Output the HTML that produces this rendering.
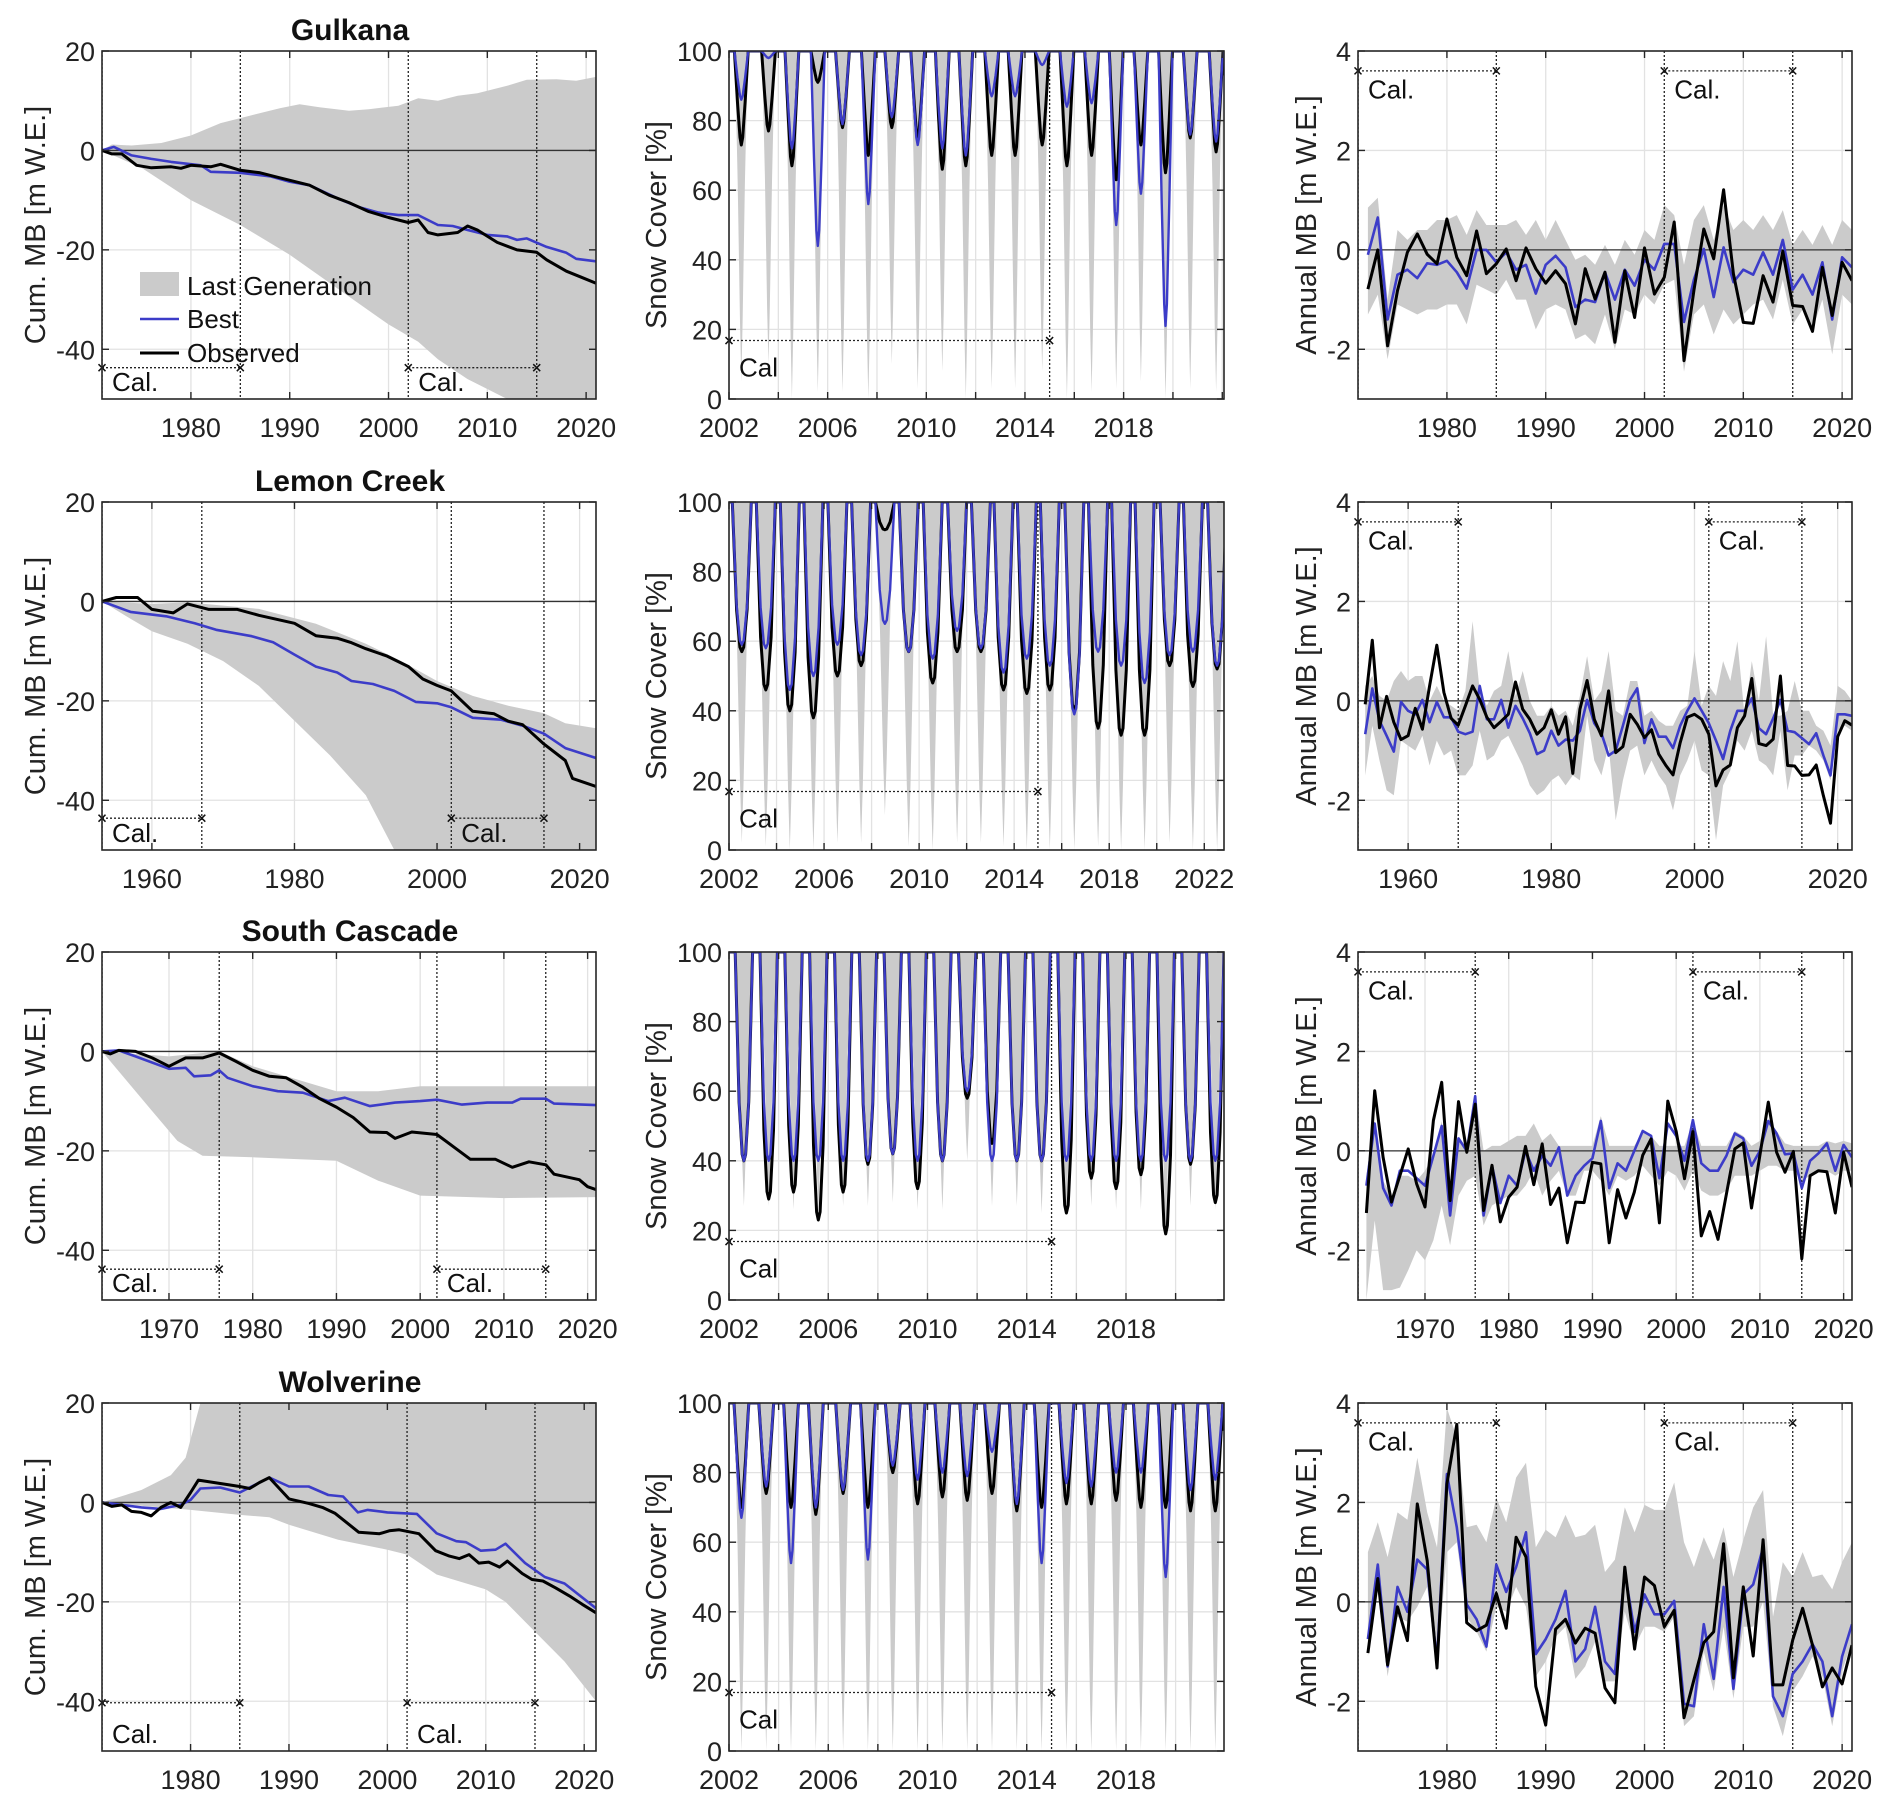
<!DOCTYPE html>
<html><head><meta charset="utf-8">
<style>
html,body{margin:0;padding:0;background:#fff;}
svg{display:block;font-family:"Liberation Sans",Arial,sans-serif;}
</style></head>
<body>
<svg id="fig" width="1892" height="1809" viewBox="0 0 1892 1809"></svg>
<script>
// ===== Cumulative MB data (col 1) =====
const gkBestYr=[1971,1972.2,1974,1976,1978,1981,1982,1985,1988,1990,1992,1995,1997,1999,2001,2003,2005,2006.5,2008,2010,2012,2013,2014,2016,2018,2019,2021];
const gkBest=[0,0.7,-1,-1.7,-2.3,-3,-4.3,-4.5,-5.2,-6.3,-7,-9.8,-11.4,-12.5,-13,-13,-15,-15.2,-16,-17,-17.3,-18,-17.7,-19.4,-20.6,-21.8,-22.3];
const gkObsYr=[1971,1972,1973,1974.5,1976,1978,1979,1980,1982,1983,1985,1987,1989,1992,1994,1996,1998,2000,2002,2003,2004,2005,2007,2008,2009,2011,2013,2015,2016,2018,2019.5,2021];
const gkObs=[0,-0.7,-0.7,-3,-3.5,-3.3,-3.6,-3,-3.3,-2.8,-4,-4.5,-5.5,-7,-9,-10.5,-12.3,-13.5,-14.5,-14,-16.5,-17,-16.5,-15.2,-16,-18.5,-20,-20.5,-22,-24.3,-25.5,-26.7];
const gkUpYr=[1971,1972,1974,1977,1980,1983,1986,1989,1991,1993,1996,1998,2001,2003,2005,2007,2009,2012,2014,2017,2019,2021];
const gkUp=[0,1.2,1,1.5,3,5.5,7,8.5,9.3,8.7,8,8.3,9,10.5,10,11,11.5,13,14.2,14.3,14,14.8];
const gkLoYr=[1971,1975,1980,1985,1990,1995,2000,2003,2005,2008,2012,2021];
const gkLo=[0,-3.5,-10,-15,-21,-28,-35,-38.5,-42,-46,-50,-56];

const lcObsYr=[1953,1955,1958,1960,1963,1965,1968,1972,1975,1980,1983,1986,1988,1990,1993,1996,1998,2000,2002,2005,2008,2010,2012,2015,2018,2019,2022.3];
const lcObs=[0,0.8,0.8,-1.6,-2.3,-0.5,-1.6,-1.6,-2.8,-4.4,-6.9,-7.4,-8.3,-9.5,-11,-13.1,-15.6,-16.9,-18,-22.1,-22.6,-24.1,-24.8,-28.7,-32,-35.6,-37.2];
const lcBestYr=[1953,1957,1962,1966,1969,1974,1977,1980,1983,1986,1988,1991,1994,1997,2000,2002,2005,2009,2012,2015,2018,2022.3];
const lcBest=[0,-2.1,-3,-4.4,-5.7,-7,-8.2,-10.7,-13.1,-14.3,-16,-16.6,-18,-20.2,-20.5,-21.3,-23.4,-23.8,-25,-26.6,-29.5,-31.5];
const lcUpYr=[1953,1960,1965,1975,1983,1990,1995,2000,2005,2010,2015,2018,2022.3];
const lcUp=[0,-0.5,-0.2,-1.5,-4.5,-8.5,-12,-16,-19,-21,-22.5,-24.5,-25.5];
const lcLoYr=[1953,1957,1960,1965,1970,1975,1980,1985,1990,1994,2000,2022.3];
const lcLo=[0,-3.5,-6,-8.5,-12,-17,-24,-31,-39,-50,-58,-70];

const scObsYr=[1962,1963,1964,1966,1968,1970,1972,1974,1976,1978,1980,1982,1984,1986,1988,1990,1992,1994,1996,1997,1999,2002,2004,2006,2009,2011,2013,2015,2016,2019,2020,2021];
const scObs=[0,-0.5,0.2,0,-1.3,-3,-1.3,-1.3,-0.3,-2,-3.8,-5,-5.3,-7.2,-9.5,-11.2,-13.3,-16.2,-16.3,-17.5,-16.2,-16.7,-19.2,-21.7,-21.7,-23.3,-22.2,-22.8,-24.7,-25.8,-27.2,-27.8];
const scBestYr=[1962,1964,1966,1970,1972,1973,1975,1976,1977,1980,1983,1986,1989,1991,1994,1997,2000,2002,2005,2008,2011,2012,2015,2016,2021];
const scBest=[0,0.2,-1,-3.5,-3.3,-5,-4.8,-3.8,-5.3,-7,-8,-8.3,-10,-9.3,-11,-10.3,-10,-9.7,-10.7,-10.3,-10.3,-9.5,-9.5,-10.5,-10.8];
const scUpYr=[1962,1970,1976,1980,1990,1995,2000,2010,2021];
const scUp=[0,-1,0,-3,-8,-8,-7,-7,-7];
const scLoYr=[1962,1965,1968,1971,1974,1980,1990,1995,2000,2010,2021];
const scLo=[0,-6,-12,-18,-21,-21.3,-22,-26,-29,-29.5,-29.3];

const wvObsYr=[1971,1972,1973,1974,1975,1976,1977,1978,1979,1980,1980.8,1985,1986,1987,1988,1990,1992,1993.4,1994.7,1997.1,1999.2,2000.2,2001.2,2003.2,2004.9,2006.3,2007.3,2008.3,2009.3,2010.3,2011.4,2012.2,2013.7,2014.7,2015.8,2017.1,2018.5,2019.8,2021.2];
const wvObs=[0,-0.8,-0.5,-1.8,-2,-2.7,-1,0,-1,2,4.5,3.2,2.8,4,5,0.7,-0.2,-1,-2.2,-6,-6.3,-5.7,-5.5,-6.3,-9.7,-10.8,-11.3,-10.5,-12.2,-12,-13,-11.8,-14.3,-15.5,-15.8,-17.2,-18.8,-20.5,-22.2];
const wvBestYr=[1971,1973,1975,1977,1979,1980,1981,1983,1985,1986,1988,1990,1992,1994,1995.5,1997,1998,2000,2003,2005,2007,2008,2009.5,2011,2012,2014,2016,2018,2021.2];
const wvBest=[0,-0.5,-1,-1.3,-0.5,0.5,2.8,3,2,3,5,3.2,3.2,1.5,1.2,-2,-1.5,-2,-2.3,-6.2,-7.8,-8,-9.7,-9.5,-8.3,-12.2,-15,-16.3,-21.3];
const wvUpYr=[1971,1975,1978,1979.5,1981,2021.2];
const wvUp=[0,2.5,5.5,9,20,30];
const wvLoYr=[1971,1980,1985,1988,1990,1995,2000,2002,2005,2010,2012,2015,2018,2021.2];
const wvLo=[0,-1.5,-2.5,-3,-4.5,-7.5,-9.5,-10.5,-14.5,-17.5,-20,-26,-32,-40];

// ===== Snow cover data (col 2) =====
const gkDipT=[2002.5,2003.6,2004.55,2005.6,2006.6,2007.65,2008.6,2009.65,2010.65,2011.6,2012.65,2013.6,2014.7,2015.7,2016.7,2017.7,2018.7,2019.7,2020.7,2021.75];
const gkSnowObs=[73,77,67,91,78,70,78,75,66,67,70,70,73,67,70,63,73,65,75,71];
const gkSnowBest=[86,98,72,44,79,56,81,73,72,70,87,87,96,84,85,50,59,21,76,74];
const gkSnowGray=[5,10,0,2,2,0,10,3,8,0,3,3,8,0,2,3,5,0,3,2];
const lcDipT=[2002.54,2003.55,2004.56,2005.55,2006.56,2007.56,2008.56,2009.56,2010.57,2011.6,2012.6,2013.55,2014.53,2015.5,2016.53,2017.53,2018.5,2019.49,2020.54,2021.52,2022.54];
const lcSnowObs=[57,46,40,38,50,53,92,57,48,57,57,46,45,46,40,35,33,33,53,47,52];
const lcSnowBest=[59,58,46,50,59,56,65,57,55,63,58,51,55,53,39,57,53,48,56,57,53];
const lcSnowGray=[2,1,0,0,2,2,10,1,0,2,2,1,0,0,0,1,0,0,2,0,0];
const scDipT=[2002.6,2003.6,2004.6,2005.6,2006.6,2007.6,2008.6,2009.6,2010.6,2011.6,2012.6,2013.6,2014.6,2015.6,2016.6,2017.6,2018.6,2019.6,2020.6,2021.6];
const scSnowObs=[40,29,31,23,31,39,42,32,40,58,45,40,40,25,35,32,36,19,39,28];
const scSnowBest=[40,40,40,40,40,40,42,40,40,60,40,40,40,40,40,40,40,40,40,40];
const scSnowGray=[27,27,26,26,27,27,28,26,26,40,27,27,25,25,27,26,26,19,27,26];
const wvDipT=[2002.5,2003.5,2004.5,2005.5,2006.6,2007.6,2008.6,2009.6,2010.6,2011.6,2012.6,2013.6,2014.6,2015.6,2016.6,2017.6,2018.6,2019.6,2020.6,2021.6];
const wvSnowObs=[70,74,70,68,74,70,80,71,73,72,74,69,70,71,71,72,70,70,69,69];
const wvSnowBest=[67,76,54,70,75,55,82,78,80,79,86,71,54,77,76,80,80,50,75,78];
const wvSnowGray=[0,0,0,0,0,0,0,0,0,0,0,0,0,0,0,0,0,0,0,0];
const snowEndObs=[93,78,69,92];
const snowEndBest=[100,100,100,100];

// ===== Annual MB data (col 3) =====
const gkAnnStart=1972;
const gkAnnObs=[-0.79,0,-1.93,-0.82,-0.05,0.32,-0.09,-0.28,0.62,-0.15,-0.52,0.38,-0.48,-0.28,0.02,-0.62,0.04,-0.38,-0.67,-0.42,-0.68,-1.49,-0.38,-0.99,-0.45,-1.86,-0.42,-1.36,0.04,-0.89,-0.55,0.56,-2.23,-0.82,0.42,-0.18,1.21,-0.48,-1.46,-1.48,-0.52,-1.05,-0.03,-1.12,-1.14,-1.64,-0.35,-1.32,-0.25,-0.62];
const gkAnnBest=[-0.1,0.65,-1.4,-0.5,-0.4,-0.57,-0.27,-0.3,-0.22,-0.45,-0.78,0,0,-0.25,-0.05,-0.4,-0.3,-0.88,-0.3,-0.12,-0.35,-1.15,-1,-1.05,-0.45,-1,-0.4,-0.72,-0.2,-0.4,0.12,0.12,-1.45,-0.6,0.02,-0.95,0.05,-0.65,-0.4,-0.5,-0.05,-0.5,0.2,-0.8,-0.5,-0.9,-0.25,-1.4,-0.15,-0.35];
const gkAnnUp=[0.85,1.05,-1.0,0.4,0.2,0.4,0.4,0.6,0.6,0.7,0.3,0.8,0.5,0.5,0.5,0.6,0.3,0.6,0.2,0.6,0.2,-0.2,-0.1,-0.3,0.1,-0.3,0.2,-0.1,0.4,0.2,0.9,0.7,-0.3,0.6,0.9,0.2,0.9,0.4,0.6,0.4,0.7,0.4,0.8,0.1,0.4,0.1,0.5,0.1,0.6,0.4];
const gkAnnLo=[-1.3,-0.9,-2.2,-1.1,-1.2,-1.3,-1.2,-1.2,-1.1,-1.1,-1.5,-0.7,-0.8,-0.9,-0.6,-1.0,-1.0,-1.6,-1.2,-1.1,-1.2,-1.8,-1.7,-1.9,-1.3,-2.0,-1.2,-1.3,-0.9,-1.1,-0.7,-0.6,-2.45,-1.3,-1.1,-1.7,-1.2,-1.5,-1.3,-1.1,-1.0,-1.4,-0.6,-1.5,-1.2,-1.6,-1.0,-2.1,-0.9,-1.1];

const lcAnnStart=1954;
const lcAnnObs=[-0.07,1.22,-0.54,0.09,-0.43,-0.78,-0.7,-0.15,-0.57,0.3,1.12,0.17,-0.35,-0.49,-0.1,0.3,0.03,-0.33,-0.54,-0.41,-0.27,0.38,-0.17,-0.37,-0.67,-0.54,-0.18,-0.67,-0.32,-1.46,-0.17,0.41,-0.37,-0.7,0.2,-1.04,-0.92,-0.27,-0.47,-0.74,-0.58,-1.07,-1.3,-1.49,-0.84,-0.33,-0.27,-0.37,-0.67,-1.71,-1.39,-1.29,-0.54,-0.3,0.45,-0.86,-0.9,-0.77,0.5,-1.3,-1.31,-1.5,-1.49,-1.29,-1.91,-2.46,-0.72,-0.4,-0.49];
const lcAnnBest=[-0.67,0.25,-0.4,-0.7,-1.02,-0.02,-0.2,-0.27,0.02,-0.43,-0.02,-0.33,-0.33,-0.62,-0.67,-0.62,0.3,-0.37,-0.37,0.02,-0.54,-0.1,-0.35,-0.65,-1.07,-1.0,-0.6,-0.9,-0.78,-0.8,-0.6,0.02,-0.45,-0.65,-1.1,-1.0,-0.5,0.02,0.25,-0.85,-0.37,-0.72,-0.72,-0.95,-0.5,-0.2,0.05,-0.2,-0.45,-0.8,-1.17,-0.6,-0.2,-0.2,0.05,-0.55,-0.67,-0.35,0.02,-0.6,-0.63,-0.75,-0.87,-0.65,-1.1,-1.5,-0.27,-0.27,-0.3];
const lcAnnUp=[0.3,0.5,0.1,0.0,0.4,0.6,0.4,0.5,0.5,0.0,0.3,0.0,-0.1,-0.2,0.2,1.6,0.2,-0.1,0.2,0.3,1.0,0.1,0.6,0.0,-0.3,-0.3,-0.1,-0.3,-0.2,-0.5,0.1,0.9,0.0,0.2,1.0,-0.2,-0.3,0.4,0.4,-0.3,-0.2,-0.4,-0.5,-0.5,-0.2,-0.1,1.0,-0.1,0.3,0.1,0.8,0.4,1.2,-0.3,0.8,0.0,1.3,-0.3,-0.3,-0.2,0.4,-0.2,-0.2,-0.5,-0.6,-0.9,0.3,0.2,0.0];
const lcAnnLo=[-1.5,-0.5,-1.2,-1.8,-1.9,-0.8,-0.9,-1.0,-0.7,-1.3,-0.8,-1.1,-1.0,-1.5,-1.5,-1.3,-0.6,-1.2,-1.1,-0.8,-0.7,-1.0,-1.3,-1.7,-1.9,-1.8,-1.6,-1.5,-1.7,-1.5,-1.6,-0.3,-1.2,-1.5,-0.9,-2.4,-1.6,-1.0,-0.9,-1.5,-1.2,-1.5,-1.7,-2.2,-1.5,-1.2,-0.8,-1.4,-1.5,-2.8,-1.7,-1.4,-0.8,-1.0,-0.6,-1.2,-1.3,-1.5,-0.6,-1.8,-1.1,-1.1,-0.9,-1.0,-1.2,-1.6,-0.6,-0.5,-0.6];

const scAnnStart=1963;
const scAnnObs=[-1.25,1.21,-0.13,-1.03,-0.5,0.04,-0.66,-1.13,0.61,1.38,-1.0,0.99,-0.03,0.94,-1.2,-0.29,-1.43,-0.93,-0.73,0.09,-0.68,0.14,-1.08,-0.75,-1.85,-1.03,-1.04,-0.23,-0.26,-1.85,-0.78,-1.35,-0.83,-0.09,0.24,-1.45,1.0,0.39,-0.56,0.39,-1.71,-1.22,-1.78,-0.87,0.04,0.16,-1.15,-0.09,0.98,-0.03,-0.43,-0.01,-2.17,-0.5,-0.4,-0.42,-1.25,-0.03,-0.73];
const scAnnBest=[-0.7,0.55,-0.75,-1.1,-0.4,-0.4,-0.55,-0.7,-0.1,0.5,-1.3,0.25,0.0,1.1,-1.3,-0.3,-1.05,-0.5,-0.7,0.0,-0.4,-0.1,-0.3,0.07,-0.9,-0.5,-0.3,-0.15,0.6,-0.75,-0.25,-0.4,0.0,0.4,0.3,-0.55,0.55,0.3,-0.2,0.62,-0.25,-0.4,-0.4,-0.1,0.35,0.25,-0.3,0.0,0.6,0.35,-0.07,-0.05,-0.75,-0.2,-0.05,0.15,-0.4,0.12,-0.13];
const scAnnUp=[-0.5,0.6,-0.6,-0.9,-0.5,-0.5,-0.6,-0.4,-0.1,0.6,-0.9,0.2,0.1,1.15,0.0,0.1,0.1,0.2,0.3,0.3,0.55,0.2,0.35,0.1,0.1,0.1,0.1,0.1,0.7,0.1,0.1,0.1,0.1,0.4,0.3,0.1,0.1,0.1,0.1,0.6,0.1,0.1,0.1,0.1,0.4,0.3,0.1,0.2,0.6,0.4,0.15,0.1,0.1,0.1,0.1,0.2,0.15,0.2,0.15];
const scAnnLo=[-3.0,-1.4,-2.8,-2.8,-2.75,-2.4,-2.0,-2.2,-1.8,-1.1,-1.9,-0.9,-0.6,-0.5,-1.5,-1.1,-1.0,-0.9,-0.9,-0.7,-0.4,-0.9,-0.6,-0.4,-0.9,-0.9,-0.4,-0.4,-0.6,-0.9,-0.5,-0.6,-0.5,-0.3,-0.5,-0.7,-0.4,-0.5,-0.8,-0.4,-0.8,-0.9,-0.9,-0.8,-0.5,-0.5,-0.5,-0.4,-0.3,-0.3,-0.4,-0.4,-0.6,-0.5,-0.4,-0.4,-0.5,-0.4,-0.4];

const wvAnnStart=1972;
const wvAnnObs=[-1.03,0.47,-1.27,-0.1,-0.78,1.97,0.83,-1.33,2.37,3.57,-0.42,-0.58,-0.47,0.17,-0.53,1.3,0.9,-1.7,-2.48,-0.55,-0.35,-0.83,-0.53,-0.63,-1.73,-2.03,0.7,-0.95,0.5,0.33,-0.5,-0.17,-2.33,-1.57,-0.82,-0.6,1.17,-1.53,0.3,-1.09,1.25,-1.67,-1.67,-0.77,-0.13,-0.87,-1.71,-1.33,-1.65,-0.87];
const wvAnnBest=[-0.75,0.75,-1.3,0.3,-0.2,0.85,0.65,-1.2,2.57,1.5,-0.05,-0.35,-0.9,0.75,0.2,0.7,1.4,-1.05,-0.75,-0.35,0.22,-1.2,-0.95,-0.1,-1.2,-1.45,0.6,-0.6,0.15,-0.25,-0.25,0.02,-2.05,-2.1,-0.45,-1.55,0.3,-1.75,0.15,0.35,1.1,-1.9,-2.3,-1.45,-1.2,-0.85,-1.2,-2.3,-1.1,-0.45];
const wvAnnUp=[1.0,1.6,0.9,1.8,1.65,2.9,1.8,1.1,3.9,3.3,1.5,1.55,1.2,2.1,1.6,2.5,2.8,1.1,1.45,1.3,1.75,1.3,1.35,1.55,0.6,0.85,1.9,1.4,1.95,1.85,1.85,2.4,1.2,0.7,1.3,0.85,1.5,0.5,1.25,1.9,2.25,-0.3,0.8,0.5,1.0,0.5,0.55,0.25,0.8,1.2];
const wvAnnLo=[-1.1,0.2,-1.5,-0.3,-0.4,-0.1,0.3,-1.4,1.0,1.2,-0.3,-0.6,-1.0,-0.1,-0.2,0.3,-0.1,-1.5,-1.2,-0.7,-0.5,-1.55,-1.3,-0.8,-1.6,-1.6,-0.2,-0.9,-0.5,-0.5,-0.6,-0.3,-2.5,-2.3,-1.0,-1.8,-0.5,-1.95,-0.5,-0.5,0.0,-2.1,-2.7,-1.8,-1.5,-1.1,-1.5,-2.5,-1.4,-0.8];

// ===== Tick labels / names =====
const glacierNames=['Gulkana','Lemon Creek','South Cascade','Wolverine'];
const cumYTicks=[-40,-20,0,20];
const snowYTicks=[0,20,40,60,80,100];
const annYTicks=[-2,0,2,4];
const yearTicksGK=[1980,1990,2000,2010,2020];
const yearTicksLC=[1960,1980,2000,2020];
const yearTicksSC=[1970,1980,1990,2000,2010,2020];
const snowTicksShort=[2002,2006,2010,2014,2018];
const snowTicksLong=[2002,2006,2010,2014,2018,2022];
const legendLabels=['Last Generation','Best','Observed'];

// ===== Rendering =====
const NS='http://www.w3.org/2000/svg';
const svg=document.getElementById('fig');
const BLUE='#3c3cc8', GRAY='#cbcbcb', GRID='#e2e2e2';
const TF=27;
function mk(tag,attrs,parent,name){
  const el=document.createElementNS(NS,tag);
  
  
  for(const k in attrs) el.setAttribute(k,attrs[k]);
  parent.appendChild(el);
  return el;
}
function txt(str,attrs,parent,name){const t=mk('text',attrs,parent,name);t.textContent=str;return t;}

const COLS=[{x0:102,x1:596},{x0:729,x1:1224},{x0:1358,x1:1852}];
const ROWS=[51,502,952,1403];
const RH=348;
let clipId=0;

function makePanel(name,col,row,xlim,ylim){
  const b={x0:COLS[col].x0,x1:COLS[col].x1,y0:ROWS[row],y1:ROWS[row]+RH};
  const g=mk('g',{},svg,name);
  const sx=v=>b.x0+(v-xlim[0])/(xlim[1]-xlim[0])*(b.x1-b.x0);
  const sy=v=>b.y1-(v-ylim[0])/(ylim[1]-ylim[0])*(b.y1-b.y0);
  const id='c'+(clipId++);
  const cp=mk('clipPath',{id:id},g,name+'-clip');
  mk('rect',{x:b.x0,y:b.y0,width:b.x1-b.x0,height:b.y1-b.y0},cp,name+'-clip-rect');
  const plot=mk('g',{'clip-path':'url(#'+id+')'},g,name+'-plot-area');
  return {g,plot,sx,sy,b,xlim,ylim,name};
}
function grid(P,xt,yt){
  xt.forEach(v=>{mk('line',{x1:P.sx(v),x2:P.sx(v),y1:P.b.y0,y2:P.b.y1,stroke:GRID,'stroke-width':1.3},P.plot,P.name+'-x-grid-'+v);});
  yt.forEach(v=>{mk('line',{x1:P.b.x0,x2:P.b.x1,y1:P.sy(v),y2:P.sy(v),stroke:GRID,'stroke-width':1.3},P.plot,P.name+'-y-grid-'+v);});
}
function frame(P,xt,xlab,yt,minorX){
  const b=P.b;
  mk('rect',{x:b.x0,y:b.y0,width:b.x1-b.x0,height:b.y1-b.y0,fill:'none',stroke:'#262626','stroke-width':1.6},P.g,P.name+'-axes-box');
  const allX=(minorX||xt);
  allX.forEach(v=>{const x=P.sx(v);
    mk('line',{x1:x,x2:x,y1:b.y1,y2:b.y1-7,stroke:'#262626','stroke-width':1.4},P.g,P.name+'-x-tick');
    mk('line',{x1:x,x2:x,y1:b.y0,y2:b.y0+7,stroke:'#262626','stroke-width':1.4},P.g,P.name+'-x-tick-top');});
  xlab.forEach(v=>{txt(String(v),{x:P.sx(v),y:b.y1+38,'font-size':TF,'text-anchor':'middle',fill:'#222'},P.g,P.name+'-x-tick-label');});
  yt.forEach(v=>{const y=P.sy(v);
    mk('line',{x1:b.x0,x2:b.x0+7,y1:y,y2:y,stroke:'#262626','stroke-width':1.4},P.g,P.name+'-y-tick');
    mk('line',{x1:b.x1,x2:b.x1-7,y1:y,y2:y,stroke:'#262626','stroke-width':1.4},P.g,P.name+'-y-tick-right');
    txt(String(v),{x:b.x0-7,y:y+10,'font-size':TF,'text-anchor':'end',fill:'#222'},P.g,P.name+'-y-tick-label');});
}
function ylabel(P,str,cx){
  const cy=(P.b.y0+P.b.y1)/2;
  txt(str,{x:cx,y:cy+10,'font-size':29,'text-anchor':'middle',fill:'#222',transform:'rotate(-90 '+cx+' '+cy+')'},P.g,P.name+'-y-axis-title');
}
function polyline(P,xs,ys,color,w,name){
  const pts=xs.map((x,i)=>P.sx(x).toFixed(1)+','+P.sy(ys[i]).toFixed(1)).join(' ');
  return mk('polyline',{points:pts,fill:'none',stroke:color,'stroke-width':w,'stroke-linejoin':'round'},P.plot,name);
}
function band(P,ux,uy,lx,ly,name){
  const a=ux.map((x,i)=>P.sx(x).toFixed(1)+','+P.sy(uy[i]).toFixed(1));
  const c=[];for(let i=lx.length-1;i>=0;i--)c.push(P.sx(lx[i]).toFixed(1)+','+P.sy(ly[i]).toFixed(1));
  mk('polygon',{points:a.concat(c).join(' '),fill:GRAY,stroke:'none'},P.plot,name);
}
function zeroLine(P){mk('line',{x1:P.b.x0,x2:P.b.x1,y1:P.sy(0),y2:P.sy(0),stroke:'#333','stroke-width':1.3},P.plot,P.name+'-zero-line');}
function vdot(P,v){mk('line',{x1:P.sx(v),x2:P.sx(v),y1:P.b.y0,y2:P.b.y1,stroke:'#222','stroke-width':1.3,'stroke-dasharray':'2,2'},P.plot,P.name+'-cal-boundary');}
function xmark(P,x,y){const X=P.sx(x),Y=P.sy(y);
  mk('path',{d:`M${X-3.5},${Y-3.5}L${X+3.5},${Y+3.5}M${X-3.5},${Y+3.5}L${X+3.5},${Y-3.5}`,stroke:'#111','stroke-width':1.5},P.g,P.name+'-cal-marker');}
function calSeg(P,a,bv,y,ty,label){
  mk('line',{x1:P.sx(a),x2:P.sx(bv),y1:P.sy(y),y2:P.sy(y),stroke:'#222','stroke-width':1.3,'stroke-dasharray':'2,2'},P.g,P.name+'-cal-period');
  xmark(P,a,y);xmark(P,bv,y);
  txt(label,{x:P.sx(a)+10,y:P.sy(ty)+9,'font-size':26,fill:'#111'},P.g,P.name+'-cal-label');
}
function annYears(start,n){const r=[];for(let i=0;i<n;i++)r.push(start+i);return r;}

function snowCurve(dipT,mins,w,prof,endVal,xlim){
  const offs=[-1,-0.55,-0.2,0,0.2,0.55,1];
  const xs=[xlim[0]],ys=[100];
  dipT.forEach((t,i)=>{const d=100-mins[i];offs.forEach((o,k)=>{xs.push(t+o*w);ys.push(100-d*prof[k]);});});
  xs.push(xlim[1]);ys.push(endVal);
  return [xs,ys];
}

const calRanges=[[1985,2002,2015],[1967,2002,2015],[1976,2002,2015],[1985,2002,2015]];
const cumX=[[1971,2021],[1953,2022.3],[1962,2021],[1971,2021.2]];
const cumData=[
 [gkUpYr,gkUp,gkLoYr,gkLo,gkBestYr,gkBest,gkObsYr,gkObs,yearTicksGK],
 [lcUpYr,lcUp,lcLoYr,lcLo,lcBestYr,lcBest,lcObsYr,lcObs,yearTicksLC],
 [scUpYr,scUp,scLoYr,scLo,scBestYr,scBest,scObsYr,scObs,yearTicksSC],
 [wvUpYr,wvUp,wvLoYr,wvLo,wvBestYr,wvBest,wvObsYr,wvObs,yearTicksGK]];
const cumCalY=[-43.7,-43.6,-43.8,-40.3];
const snowData=[
 [gkDipT,gkSnowObs,gkSnowBest,gkSnowGray,[2002,2022.07],snowTicksShort,0.28,0],
 [lcDipT,lcSnowObs,lcSnowBest,lcSnowGray,[2002,2022.83],snowTicksLong,0.4,1],
 [scDipT,scSnowObs,scSnowBest,scSnowGray,[2002,2021.95],snowTicksShort,0.35,1],
 [wvDipT,wvSnowObs,wvSnowBest,wvSnowGray,[2002,2021.95],snowTicksShort,0.3,0]];
const annData=[
 [gkAnnStart,gkAnnObs,gkAnnBest,gkAnnUp,gkAnnLo,[1971,2021],yearTicksGK],
 [lcAnnStart,lcAnnObs,lcAnnBest,lcAnnUp,lcAnnLo,[1953,2022],yearTicksLC],
 [scAnnStart,scAnnObs,scAnnBest,scAnnUp,scAnnLo,[1962,2021],yearTicksSC],
 [wvAnnStart,wvAnnObs,wvAnnBest,wvAnnUp,wvAnnLo,[1971,2021],yearTicksGK]];
const slug=['gulkana','lemon-creek','south-cascade','wolverine'];

for(let r=0;r<4;r++){
  const cal=calRanges[r];
  const d=cumData[r];
  const P=makePanel(slug[r]+'-cumulative-mb',0,r,cumX[r],[-50,20]);
  grid(P,d[8],cumYTicks);
  band(P,d[0],d[1],d[2],d[3],P.name+'-last-generation-band');
  zeroLine(P);
  [cumX[r][0],cal[0],cal[1],cal[2]].forEach(v=>vdot(P,v));
  polyline(P,d[4],d[5],BLUE,2.6,P.name+'-best-line');
  polyline(P,d[6],d[7],'#000',3,P.name+'-observed-line');
  calSeg(P,cumX[r][0],cal[0],cumCalY[r],-46.6,'Cal.');
  calSeg(P,cal[1],cal[2],cumCalY[r],-46.6,'Cal.');
  frame(P,d[8],d[8],cumYTicks);
  ylabel(P,'Cum. MB [m W.E.]',35);
  txt(glacierNames[r],{x:350,y:ROWS[r]-11,'font-size':30,'font-weight':'bold','text-anchor':'middle',fill:'#111'},svg,slug[r]+'-title');

  const s=snowData[r];
  const Q=makePanel(slug[r]+'-snow-cover',1,r,s[4],[0,100]);
  const minor=[];for(let y=2002;y<=s[4][1];y+=2)minor.push(y);
  grid(Q,minor,snowYTicks);
  const wide=s[7]===1;
  const profL=wide?[0,0.72,0.97,1,0.97,0.72,0]:[0,0.55,0.92,1,0.92,0.55,0];
  const profG=[0,0.4,0.82,1,0.82,0.4,0];
  const gc=snowCurve(s[0],s[3],s[6]*0.95,profG,100,s[4]);
  const gpts=[Q.sx(s[4][0])+','+Q.sy(100)];
  gc[0].forEach((x,i)=>gpts.push(Q.sx(x).toFixed(1)+','+Q.sy(gc[1][i]).toFixed(1)));
  gpts.push(Q.sx(s[4][1])+','+Q.sy(100));
  mk('polygon',{points:gpts.join(' '),fill:GRAY,stroke:'none'},Q.plot,Q.name+'-last-generation-band');
  vdot(Q,2015);
  const oc=snowCurve(s[0],s[1],s[6],profL,snowEndObs[r],s[4]);
  polyline(Q,oc[0],oc[1],'#000',3,Q.name+'-observed-line');
  const bc=snowCurve(s[0],s[2],s[6],profL,snowEndBest[r],s[4]);
  polyline(Q,bc[0],bc[1],BLUE,2.4,Q.name+'-best-line');
  calSeg(Q,2002,2015,16.8,9.1,'Cal');
  frame(Q,s[5],s[5],snowYTicks,minor);
  ylabel(Q,'Snow Cover [%]',656);

  const a=annData[r];
  const R=makePanel(slug[r]+'-annual-mb',2,r,a[5],[-3,4]);
  grid(R,a[6],annYTicks);
  const yrs=annYears(a[0],a[1].length);
  band(R,annYears(a[0],a[3].length),a[3],annYears(a[0],a[4].length),a[4],R.name+'-last-generation-band');
  zeroLine(R);
  [a[5][0],cal[0],cal[1],cal[2]].forEach(v=>vdot(R,v));
  polyline(R,annYears(a[0],a[2].length),a[2],BLUE,2.6,R.name+'-best-line');
  polyline(R,yrs,a[1],'#000',3,R.name+'-observed-line');
  calSeg(R,a[5][0],cal[0],3.6,3.23,'Cal.');
  calSeg(R,cal[1],cal[2],3.6,3.23,'Cal.');
  frame(R,a[6],a[6],annYTicks);
  ylabel(R,'Annual MB [m W.E.]',1306);
}

const lg=mk('g',{},svg,'legend');
mk('rect',{x:140,y:272,width:39,height:24,fill:GRAY},lg,'legend-swatch-last-generation');
txt(legendLabels[0],{x:187,y:295,'font-size':26,fill:'#111'},lg,'legend-label-last-generation');
mk('line',{x1:140,x2:179,y1:319,y2:319,stroke:BLUE,'stroke-width':2.6},lg,'legend-swatch-best');
txt(legendLabels[1],{x:187,y:328,'font-size':26,fill:'#111'},lg,'legend-label-best');
mk('line',{x1:140,x2:179,y1:353,y2:353,stroke:'#000','stroke-width':3},lg,'legend-swatch-observed');
txt(legendLabels[2],{x:187,y:362,'font-size':26,fill:'#111'},lg,'legend-label-observed');
</script>
</body></html>
